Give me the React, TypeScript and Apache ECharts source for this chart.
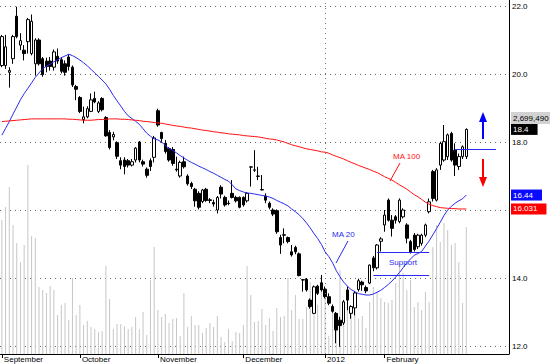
import React, { useEffect, useRef } from "react";
import * as echarts from "echarts";

// [open, close, low, high] per trading day, Sept 2011 - early March 2012
const ohlc: number[][] = [
  [20.25, 21.10, 20.20, 21.15], [20.25, 20.80, 20.15, 21.15], [20.05, 20.10, 19.60, 20.20], [20.45, 21.10, 20.30, 21.15],
  [21.70, 21.10, 21.05, 21.98], [20.85, 20.98, 20.70, 21.20], [20.70, 20.60, 20.40, 20.85], [20.95, 21.60, 20.60, 21.65],
  [20.60, 21.55, 20.55, 21.75], [20.30, 21.00, 19.95, 21.05], [21.00, 20.30, 20.25, 21.05], [20.45, 19.98, 19.92, 20.50],
  [20.38, 20.22, 20.05, 20.48], [20.38, 20.22, 20.10, 20.50], [20.20, 20.65, 20.10, 20.72], [20.52, 20.38, 20.30, 20.75],
  [20.42, 20.08, 20.02, 20.50], [20.30, 20.05, 19.95, 20.40], [20.50, 20.22, 20.10, 20.58], [20.20, 19.68, 19.62, 20.25],
  [19.63, 19.55, 19.23, 19.68], [19.31, 18.90, 18.85, 19.35], [18.66, 18.74, 18.55, 19.04], [18.74, 18.98, 18.70, 19.05],
  [18.90, 19.24, 18.88, 19.43], [19.28, 19.18, 19.14, 19.48], [18.90, 19.15, 18.85, 19.20], [19.28, 18.95, 18.90, 19.32],
  [18.72, 18.18, 18.16, 18.76], [18.28, 17.84, 17.78, 18.35], [18.15, 18.22, 18.05, 18.30], [17.98, 17.58, 17.50, 18.02],
  [17.45, 17.32, 17.20, 17.55], [17.47, 17.28, 17.05, 17.55], [17.45, 17.32, 17.25, 17.50], [17.32, 17.42, 17.28, 17.50],
  [17.47, 17.82, 17.40, 17.85], [18.00, 17.47, 17.40, 18.03], [17.42, 17.35, 17.28, 17.48], [17.20, 17.02, 16.95, 17.25],
  [17.45, 17.28, 17.15, 17.52], [17.55, 18.12, 17.40, 18.18], [18.92, 18.50, 18.45, 18.98], [18.28, 18.10, 17.98, 18.30],
  [17.96, 17.72, 17.66, 18.06], [17.81, 17.47, 17.42, 17.85], [17.78, 17.37, 17.30, 17.85], [17.20, 17.18, 17.13, 17.57],
  [17.00, 17.40, 16.95, 17.45], [17.42, 17.27, 17.22, 17.57], [17.00, 16.77, 16.72, 17.05], [16.78, 16.69, 16.62, 16.83],
  [16.61, 16.27, 16.10, 16.65], [16.49, 16.08, 16.02, 16.55], [16.25, 16.59, 16.20, 16.62], [16.61, 16.28, 16.24, 16.65],
  [16.30, 16.28, 16.20, 16.35], [16.22, 16.18, 16.10, 16.30], [16.00, 16.37, 15.90, 16.41], [16.67, 16.47, 16.34, 16.73],
  [16.37, 16.15, 16.10, 16.42], [16.20, 16.19, 16.14, 16.28], [16.49, 16.37, 16.34, 16.88], [16.37, 16.27, 16.22, 16.42],
  [16.37, 16.08, 16.05, 16.40], [16.37, 16.15, 16.10, 16.40], [16.27, 16.49, 16.22, 16.52], [17.26, 17.27, 16.69, 17.28],
  [17.17, 17.18, 17.12, 17.76], [17.00, 16.99, 16.88, 17.27], [16.60, 16.59, 16.58, 17.03], [16.41, 16.29, 16.20, 16.49],
  [16.20, 16.08, 16.02, 16.25], [16.00, 15.88, 15.82, 16.05], [15.98, 15.36, 15.30, 16.02], [15.19, 14.97, 14.71, 15.27],
  [15.27, 15.26, 15.02, 15.46], [15.19, 15.07, 15.02, 15.22], [14.77, 14.68, 14.63, 14.97], [14.90, 14.77, 14.70, 14.95],
  [14.71, 14.07, 14.05, 14.75], [13.95, 13.94, 13.60, 13.96], [13.96, 13.65, 13.60, 14.00], [13.35, 13.16, 13.10, 13.40],
  [12.96, 13.74, 12.94, 13.78], [13.76, 13.55, 13.50, 13.80], [13.86, 13.65, 13.60, 14.09], [13.67, 13.45, 13.40, 13.75],
  [13.45, 13.26, 13.20, 13.55], [13.16, 13.02, 12.98, 13.22], [12.96, 12.47, 12.08, 13.00], [12.76, 12.60, 11.98, 12.86],
  [12.68, 13.30, 12.62, 13.35], [13.65, 13.35, 13.05, 13.75], [12.96, 13.16, 12.80, 13.20], [13.12, 13.56, 12.90, 13.62],
  [13.66, 13.92, 13.60, 13.98], [13.88, 13.80, 13.62, 13.92], [13.72, 13.62, 13.55, 13.78], [13.85, 14.38, 13.82, 14.40],
  [14.59, 14.30, 14.20, 14.65], [14.30, 14.97, 14.25, 15.00], [15.08, 15.15, 14.78, 15.20], [15.56, 15.85, 15.36, 16.00],
  [16.29, 15.70, 15.66, 16.34], [15.70, 15.46, 15.22, 15.85], [15.80, 15.70, 15.60, 15.85], [15.66, 16.29, 15.61, 16.34],
  [15.80, 16.00, 15.75, 16.05], [15.56, 15.17, 15.02, 15.61], [15.07, 14.77, 14.72, 15.12], [15.26, 14.84, 14.78, 15.32],
  [14.92, 15.26, 14.85, 15.30], [15.02, 15.26, 14.95, 15.30], [15.26, 15.56, 15.20, 15.60], [15.95, 16.24, 15.90, 16.34],
  [17.13, 16.34, 16.25, 17.18], [16.29, 17.18, 16.25, 17.23], [17.32, 17.96, 17.18, 18.01], [17.47, 18.01, 17.42, 18.50],
  [17.57, 18.21, 17.47, 18.25], [18.25, 17.47, 17.42, 18.30], [17.76, 17.32, 17.00, 17.96], [17.28, 17.57, 17.18, 17.66],
  [17.57, 17.86, 17.50, 17.90], [17.57, 18.37, 17.50, 18.40],
];

// volume, thousands of shares
const volume: number[] = [
  2849, 3125, 3550, 2743, 2360, 1956, 2317, 4018, 2509, 2466,
  1424, 1361, 1297, 1446, 1361, 829, 1042, 1084, 723, 1616,
  829, 1042, 617, 702, 574, 532, 468, 489, 1871, 1169,
  532, 638, 638, 595, 532, 574, 787, 532, 893, 404,
  1573, 2275, 935, 787, 850, 659, 744, 765, 383, 1297,
  574, 808, 617, 617, 446, 553, 659, 574, 808, 361,
  255, 532, 276, 468, 446, 617, 1871, 1254, 680, 702,
  957, 617, 765, 489, 978, 787, 808, 1616, 935, 1254,
  744, 744, 999, 1531, 1254, 1042, 1658, 1191, 383, 893,
  659, 1786, 1148, 999, 893, 1254, 744, 808, 553, 1106,
  1424, 1318, 1191, 1106, 1084, 1148, 1509, 1935, 1722, 1361,
  1573, 999, 1106, 935, 1318, 1106, 2275, 2743, 2381, 2785,
  2636, 2317, 2360, 1956, 1084, 2699,
];

const ma20: number[] = [
  18.20, 18.40, 18.60, 18.82, 19.03, 19.24, 19.42, 19.58, 19.74, 19.90,
  20.03, 20.16, 20.23, 20.29, 20.36, 20.42, 20.48, 20.53, 20.58, 20.54,
  20.48, 20.41, 20.33, 20.24, 20.14, 20.03, 19.93, 19.82, 19.71, 19.55,
  19.37, 19.21, 19.06, 18.90, 18.77, 18.69, 18.61, 18.52, 18.39, 18.26,
  18.17, 18.09, 18.06, 18.00, 17.90, 17.81, 17.75, 17.68, 17.60, 17.53,
  17.46, 17.40, 17.35, 17.29, 17.24, 17.19, 17.13, 17.08, 17.02, 16.96,
  16.90, 16.85, 16.74, 16.62, 16.57, 16.53, 16.50, 16.49, 16.47, 16.45,
  16.43, 16.41, 16.38, 16.34, 16.28, 16.23, 16.18, 16.12, 16.03, 15.95,
  15.86, 15.75, 15.62, 15.47, 15.31, 15.16, 14.99, 14.77, 14.63, 14.45,
  14.22, 14.04, 13.88, 13.76, 13.66, 13.60, 13.54, 13.52, 13.50, 13.50,
  13.53, 13.58, 13.64, 13.72, 13.81, 13.91, 14.03, 14.16, 14.30, 14.45,
  14.56, 14.67, 14.72, 14.78, 14.94, 15.09, 15.27, 15.45, 15.64, 15.84,
  16.00, 16.11, 16.20, 16.27, 16.33, 16.44,
];

const ma100: number[] = [
  18.60, 18.61, 18.62, 18.63, 18.64, 18.65, 18.66, 18.67, 18.68, 18.68,
  18.68, 18.68, 18.68, 18.68, 18.68, 18.68, 18.68, 18.68, 18.67, 18.67,
  18.66, 18.65, 18.64, 18.64, 18.64, 18.65, 18.66, 18.66, 18.67, 18.68,
  18.68, 18.68, 18.67, 18.67, 18.66, 18.65, 18.64, 18.63, 18.61, 18.60,
  18.59, 18.57, 18.56, 18.55, 18.53, 18.51, 18.49, 18.47, 18.46, 18.44,
  18.42, 18.41, 18.39, 18.37, 18.35, 18.34, 18.32, 18.30, 18.29, 18.27,
  18.26, 18.24, 18.23, 18.22, 18.21, 18.19, 18.18, 18.17, 18.16, 18.15,
  18.13, 18.11, 18.09, 18.08, 18.06, 18.03, 18.00, 17.96, 17.92, 17.89,
  17.86, 17.83, 17.80, 17.78, 17.76, 17.74, 17.71, 17.70, 17.67, 17.62,
  17.58, 17.54, 17.50, 17.45, 17.40, 17.36, 17.31, 17.27, 17.23, 17.19,
  17.14, 17.10, 17.04, 16.98, 16.93, 16.88, 16.81, 16.74, 16.68, 16.61,
  16.53, 16.45, 16.39, 16.31, 16.23, 16.17, 16.13, 16.10, 16.07, 16.06,
  16.05, 16.04, 16.04, 16.03, 16.03, 16.031,
];

const monthLabels = ["September", "October", "November", "December", "2012", "February", "March"];
const monthStartIdx = [0, 21, 42, 65, 87, 103, 124];
const yearStartIdx = 87;
const SLOT_COUNT = 137; // trading-day slots incl. empty right margin
const slots: string[] = Array.from({ length: SLOT_COUNT }, (_, i) => String(i));

const priceMin = 12;
const priceMax = 22;
const priceStep = 2;
const volumeMax = 7526;

const lastClose = 18.37;
const lastCloseLabel = "18.4";
const ma20Label = "16.44";
const ma100Label = "16.031";
const volumeLabel = "2,699,490";
const supportUpper = 14.765;
const supportLower = 14.088;
const pivotLevel = 17.79;

const FONT = 'Arial, "Liberation Sans", Helvetica, sans-serif';
const BLUE = "#2a2af0";
const RED = "#ff1010";

export default function App() {
  const ref = useRef<HTMLDivElement>(null);
  useEffect(() => {
    document.body.style.margin = "0";
    if (!ref.current) return;
    const chart = echarts.init(ref.current, undefined, { renderer: "svg" });
    const endLabel = (text: string, bg: string, fg: string) => ({
      show: true,
      position: "end",
      distance: 2,
      formatter: text,
      backgroundColor: bg,
      color: fg,
      fontSize: 8,
      fontFamily: FONT,
      padding: [2, 9, 1, 2],
    });
    const hidden = { color: "rgba(0,0,0,0)", width: 0 };
    const option: any = {
      animation: false,
      backgroundColor: "#fff",
      grid: [
        { left: 0, right: 41, top: 6, bottom: 18 },
        { left: 0, right: 41, top: 0, bottom: 10 },
      ],
      xAxis: [
        { type: "category", gridIndex: 0, data: slots, boundaryGap: true, show: false },
        {
          type: "category",
          gridIndex: 1,
          data: slots,
          boundaryGap: true,
          axisLine: { show: true, lineStyle: { color: "#000", width: 1 } },
          axisTick: {
            show: true,
            alignWithLabel: true,
            length: 4,
            interval: (i: number) => monthStartIdx.includes(i),
            lineStyle: { color: "#000" },
          },
          axisLabel: {
            interval: (i: number) => monthStartIdx.includes(i),
            formatter: (v: string) => {
              const k = monthStartIdx.indexOf(Number(v));
              return k >= 0 ? monthLabels[k] : "";
            },
            showMaxLabel: false,
            align: "left",
            margin: 1,
            padding: [0, 0, 0, 2],
            fontSize: 8,
            color: "#000",
            fontFamily: FONT,
          },
          splitLine: { show: false },
        },
      ],
      yAxis: [
        {
          type: "value",
          gridIndex: 0,
          position: "right",
          min: priceMin,
          max: priceMax,
          interval: priceStep,
          axisLine: { show: false },
          axisTick: { show: false },
          splitLine: { show: true, lineStyle: { color: "#666", type: [1, 4], width: 1 } },
          axisLabel: {
            margin: 3,
            fontSize: 8,
            color: "#000",
            fontFamily: FONT,
            formatter: (v: number) => (v === 16 ? "" : v.toFixed(1)),
          },
        },
        {
          type: "value",
          gridIndex: 1,
          position: "right",
          min: 0,
          max: volumeMax,
          axisLine: { show: true, lineStyle: { color: "#000", width: 1 } },
          axisTick: { show: false },
          axisLabel: { show: false },
          splitLine: { show: false },
        },
      ],
      series: [
        {
          type: "bar",
          xAxisIndex: 1,
          yAxisIndex: 1,
          data: volume,
          barWidth: 1,
          itemStyle: { color: "#c6c6c6" },
          z: 1,
          silent: true,
          markLine: {
            silent: true,
            symbol: "none",
            label: { show: false },
            lineStyle: { color: "#777", type: [1, 4], width: 1 },
            data: [{ xAxis: yearStartIdx }],
          },
        },
        {
          type: "candlestick",
          xAxisIndex: 0,
          yAxisIndex: 0,
          data: ohlc,
          barWidth: 3,
          z: 3,
          itemStyle: {
            color: "#fff",
            color0: "#000",
            borderColor: "#000",
            borderColor0: "#000",
            borderWidth: 1,
          },
          markLine: {
            silent: true,
            symbol: "none",
            lineStyle: hidden,
            data: [{ yAxis: lastClose, label: endLabel(lastCloseLabel, "#000", "#fff"), lineStyle: hidden }],
          },
        },
        {
          type: "line",
          xAxisIndex: 0,
          yAxisIndex: 0,
          data: ma20,
          symbol: "none",
          z: 4,
          lineStyle: { color: BLUE, width: 1 },
          markLine: {
            silent: true,
            symbol: "none",
            label: { show: false },
            lineStyle: { color: BLUE, width: 1, type: "solid" },
            data: [
              [{ coord: [101, supportUpper] }, { coord: [115, supportUpper] }],
              [{ coord: [100, supportLower] }, { coord: [115, supportLower] }],
              [{ coord: [122, pivotLevel] }, { coord: [133, pivotLevel] }],
              { yAxis: 16.44, label: endLabel(ma20Label, "#0a0aff", "#fff"), lineStyle: hidden },
            ],
          },
        },
        {
          type: "line",
          xAxisIndex: 0,
          yAxisIndex: 0,
          data: ma100,
          symbol: "none",
          z: 4,
          lineStyle: { color: RED, width: 1 },
          markLine: {
            silent: true,
            symbol: "none",
            lineStyle: hidden,
            data: [{ yAxis: 16.031, label: endLabel(ma100Label, "#ff0000", "#fff"), lineStyle: hidden }],
          },
        },
      ],
      graphic: [
        { type: "rect", shape: { x: 511, y: 112, width: 39, height: 12 }, style: { fill: "#d2d2d2" }, z: 10 },
        {
          type: "text", x: 513, y: 118, z: 11,
          style: { text: volumeLabel, fill: "#000", font: `8px ${FONT}`, verticalAlign: "middle" },
        },
        {
          type: "text", x: 393, y: 156, z: 11,
          style: { text: "MA 100", fill: RED, font: `8px ${FONT}`, verticalAlign: "middle" },
        },
        { type: "line", shape: { x1: 400, y1: 163, x2: 390, y2: 181 }, style: { stroke: RED, lineWidth: 1 }, z: 11 },
        {
          type: "text", x: 332, y: 234, z: 11,
          style: { text: "MA 20", fill: BLUE, font: `8px ${FONT}`, verticalAlign: "middle" },
        },
        { type: "line", shape: { x1: 348, y1: 241, x2: 336, y2: 263 }, style: { stroke: BLUE, lineWidth: 1 }, z: 11 },
        {
          type: "text", x: 389, y: 262, z: 11,
          style: { text: "Support", fill: BLUE, font: `8px ${FONT}`, verticalAlign: "middle" },
        },
        { type: "line", shape: { x1: 483, y1: 139, x2: 483, y2: 121 }, style: { stroke: "#0000ff", lineWidth: 2 }, z: 11 },
        { type: "polygon", shape: { points: [[479, 122], [487, 122], [483, 112]] }, style: { fill: "#0000ff" }, z: 11 },
        { type: "line", shape: { x1: 483, y1: 159, x2: 483, y2: 177 }, style: { stroke: "#ff0000", lineWidth: 2 }, z: 11 },
        { type: "polygon", shape: { points: [[479, 177], [487, 177], [483, 187]] }, style: { fill: "#ff0000" }, z: 11 },
      ],
    };
    chart.setOption(option);
    return () => chart.dispose();
  }, []);
  return <div ref={ref} style={{ width: 550, height: 364, position: "absolute", left: 0, top: 0 }} />;
}
